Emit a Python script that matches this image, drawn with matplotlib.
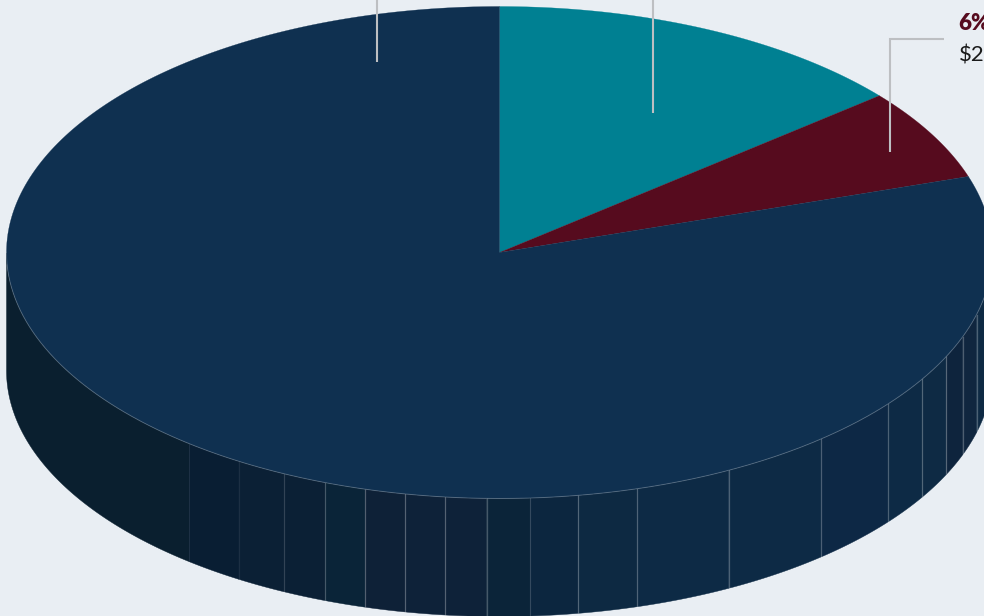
import numpy as np
import matplotlib
matplotlib.use('Agg')
import matplotlib.pyplot as plt

plt.rcParams['font.family'] = ['Lato', 'DejaVu Sans']

# Quote per fetta, in senso orario dall'alto
shares = [14, 6, 80]
slice_colors = ['#008092', '#560b1e', '#0f3050']

# Giunzioni del bordo, gradi dal punto piu' basso (negativo = sinistra)
seam_angles = [-39, -31.9, -25.9, -20.7, -15.8, -11, -6.3, -1.5, 3.6, 9.2,
               16.2, 27.7, 40.7, 52, 59, 65, 70, 75.4]
seam_alpha = [0.03, 0.07, 0.12, 0.20, 0.24, 0.24, 0.24, 0.24, 0.10, 0.24,
              0.26, 0.26, 0.26, 0.26, 0.26, 0.26, 0.26, 0.26]
side_colors = ['#0a1f2f', '#091e33', '#0b2035', '#0b2035', '#0a2438', '#0e2137',
               '#0e2239', '#0e2239', '#0b2439', '#0c263f', '#0d2942', '#0d2a45',
               '#0d2a45', '#0d2845', '#0d2a45', '#0e2a44', '#0e243d', '#10263f',
               '#0e2a44']

label_pct = '6%'
label_value = '$2'

cx, cy = 499.5, 252.5
rx, ry = 493, 246
depth = 118


def rim(deg_from_bottom, dy=0.0):
    a = np.radians(deg_from_bottom)
    return cx + rx * np.sin(a), cy + ry * np.cos(a) + dy


fig = plt.figure(figsize=(9.84, 6.16), dpi=100, facecolor='#e9eef3')
ax = fig.add_axes([0, 0, 1, 1])
ax.set_xlim(0, 984)
ax.set_ylim(616, 0)
ax.axis('off')

# --- bordo ---
edges = [-90] + seam_angles + [90]
for i, col in enumerate(side_colors):
    t = np.linspace(edges[i], edges[i + 1], 80)
    x1, y1 = rim(t)
    x2, y2 = rim(t[::-1], depth)
    ax.fill(np.r_[x1, x2], np.r_[y1, y2], color=col, lw=0.3, zorder=1)

for ang, al in zip(seam_angles, seam_alpha):
    x1, y1 = rim(ang)
    x2, y2 = rim(ang, depth)
    ax.plot([x1, x2], [y1, y2], color='white', alpha=al, lw=0.9, zorder=2)

# --- faccia superiore ---
start = 0.0
for share, col in zip(shares, slice_colors):
    stop = start + share / sum(shares) * 360
    t = np.radians(np.linspace(start, stop, 300))
    x = np.r_[cx, cx + rx * np.sin(t)]
    y = np.r_[cy, cy - ry * np.cos(t)]
    ax.fill(x, y, color=col, lw=0.2, zorder=3)
    start = stop

t = np.linspace(-90, 90, 400)
ax.plot(*rim(t), color='white', alpha=0.22, lw=0.7, zorder=4)

# --- linee guida ed etichetta ---
line_col = '#bdbfc2'
ax.plot([377, 377], [0, 61.5], color=line_col, lw=1.5, zorder=5, solid_capstyle='butt')
ax.plot([652.5, 652.5], [0, 112.5], color=line_col, lw=1.5, zorder=5, solid_capstyle='butt')
ax.plot([944, 890, 890], [38.5, 38.5, 151.5], color=line_col, lw=1.5, zorder=5,
        solid_capstyle='butt', solid_joinstyle='miter')

ax.text(958.5, 30, label_pct, color='#560b1e', fontsize=16, fontweight='heavy', zorder=6)
ax.text(959, 62, label_value, color='#1a1a1a', fontsize=16, zorder=6)

fig.savefig('out.png', dpi=100, facecolor=fig.get_facecolor())
